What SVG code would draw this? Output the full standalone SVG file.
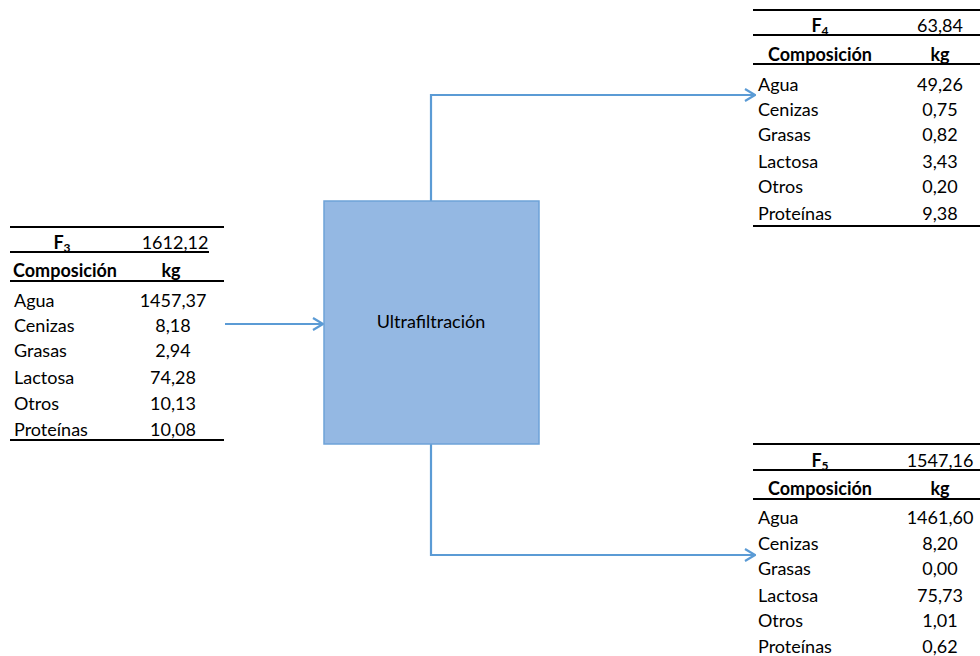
<svg xmlns="http://www.w3.org/2000/svg" width="980" height="656" viewBox="0 0 980 656">
  <style>
    text { font-family: Lato, "Open Sans", "Liberation Sans", sans-serif; font-size: 18px; fill: #000; }
    .b { font-weight: bold; }
    .c { text-anchor: middle; }
    .sub { font-size: 12px; }
    .rule { stroke: #000; stroke-width: 2; }
    .flow { fill: none; stroke: #5b9bd5; stroke-width: 2.2; }
  </style>
  <defs>
    <marker id="chev" viewBox="0 0 12 14" refX="11" refY="7" markerWidth="12" markerHeight="14" markerUnits="userSpaceOnUse" orient="auto">
      <path d="M1,1 L11,7 L1,13" fill="none" stroke="#5b9bd5" stroke-width="2.2"/>
    </marker>
  </defs>

  <!-- connectors -->
  <g id="connectors">
    <path class="flow" d="M225,324 H323" marker-end="url(#chev)"/>
    <path class="flow" d="M431,201 V95 H755" marker-end="url(#chev)"/>
    <path class="flow" d="M431,444 V555 H755" marker-end="url(#chev)"/>
  </g>

  <!-- process unit -->
  <g id="ultrafiltracion">
    <rect x="324" y="201" width="215" height="243" fill="#94b8e3" stroke="#6ea2d8" stroke-width="1.5"/>
    <text class="c" x="431" y="328">Ultrafiltración</text>
  </g>

  <!-- stream F3 (feed) -->
  <g id="F3">
    <line class="rule" x1="10" y1="227" x2="224" y2="227"/>
    <text class="c b" x="62" y="249">F<tspan class="sub" dy="3">3</tspan></text>
    <text class="c" x="175" y="249">1612,12</text>
    <line class="rule" x1="10" y1="252" x2="209" y2="252"/>
    <text class="c b" x="65" y="277">Composición</text>
    <text class="c b" x="171" y="277">kg</text>
    <line class="rule" x1="10" y1="281" x2="224" y2="281"/>
    <text x="14" y="307">Agua</text><text class="c" x="173" y="307">1457,37</text>
    <text x="14" y="332">Cenizas</text><text class="c" x="173" y="332">8,18</text>
    <text x="14" y="357">Grasas</text><text class="c" x="173" y="357">2,94</text>
    <text x="14" y="384">Lactosa</text><text class="c" x="173" y="384">74,28</text>
    <text x="14" y="410">Otros</text><text class="c" x="173" y="410">10,13</text>
    <text x="14" y="436">Proteínas</text><text class="c" x="173" y="436">10,08</text>
    <line class="rule" x1="10" y1="440" x2="224" y2="440"/>
  </g>

  <!-- stream F4 (top outlet) -->
  <g id="F4">
    <line class="rule" x1="753" y1="10" x2="980" y2="10"/>
    <text class="c b" x="820" y="32">F<tspan class="sub" dy="3">4</tspan></text>
    <text class="c" x="940" y="32">63,84</text>
    <line class="rule" x1="753" y1="35" x2="980" y2="35"/>
    <text class="c b" x="820" y="61">Composición</text>
    <text class="c b" x="940" y="61">kg</text>
    <line class="rule" x1="753" y1="64" x2="980" y2="64"/>
    <text x="758" y="91">Agua</text><text class="c" x="940" y="91">49,26</text>
    <text x="758" y="116">Cenizas</text><text class="c" x="940" y="116">0,75</text>
    <text x="758" y="141">Grasas</text><text class="c" x="940" y="141">0,82</text>
    <text x="758" y="168">Lactosa</text><text class="c" x="940" y="168">3,43</text>
    <text x="758" y="193">Otros</text><text class="c" x="940" y="193">0,20</text>
    <text x="758" y="220">Proteínas</text><text class="c" x="940" y="220">9,38</text>
    <line class="rule" x1="753" y1="226" x2="980" y2="226"/>
  </g>

  <!-- stream F5 (bottom outlet) -->
  <g id="F5">
    <line class="rule" x1="753" y1="444" x2="980" y2="444"/>
    <text class="c b" x="820" y="467">F<tspan class="sub" dy="3">5</tspan></text>
    <text class="c" x="940" y="467">1547,16</text>
    <line class="rule" x1="753" y1="470" x2="980" y2="470"/>
    <text class="c b" x="820" y="495">Composición</text>
    <text class="c b" x="940" y="495">kg</text>
    <line class="rule" x1="753" y1="499" x2="980" y2="499"/>
    <text x="758" y="524">Agua</text><text class="c" x="940" y="524">1461,60</text>
    <text x="758" y="550">Cenizas</text><text class="c" x="940" y="550">8,20</text>
    <text x="758" y="575">Grasas</text><text class="c" x="940" y="575">0,00</text>
    <text x="758" y="602">Lactosa</text><text class="c" x="940" y="602">75,73</text>
    <text x="758" y="627">Otros</text><text class="c" x="940" y="627">1,01</text>
    <text x="758" y="653">Proteínas</text><text class="c" x="940" y="653">0,62</text>
  </g>
</svg>
